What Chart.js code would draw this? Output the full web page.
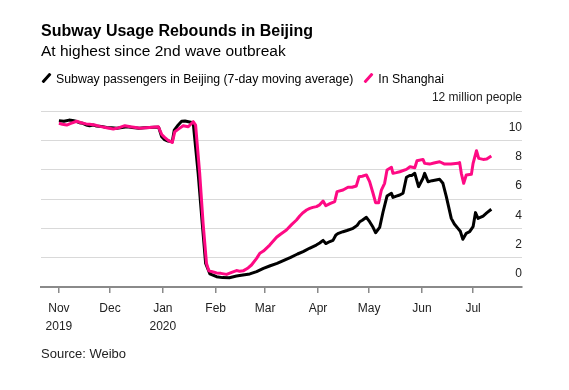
<!DOCTYPE html>
<html>
<head>
<meta charset="utf-8">
<script src="https://cdn.jsdelivr.net/npm/chart.js@4/dist/chart.umd.min.js"></script>
<style>
  body { margin: 0; background: #fff; font-family: "Liberation Sans", Arial, sans-serif; color: #000; }
  #wrap { position: relative; width: 569px; height: 390px; overflow: hidden; }
  #chart { position: absolute; left: 0; top: 0; }
  .txt { position: absolute; left: 41px; line-height: 1; white-space: nowrap; }
  .title { top: 23px; font-size: 16px; font-weight: bold; }
  .sub { top: 43px; font-size: 15.5px; }
  .legend { top: 72px; font-size: 12.3px; }
  .legend span.mark { display: inline-block; width: 3px; height: 12px; margin: 0 8px 0 4px; vertical-align: -1px; transform: rotate(42deg); border-radius: 1px; }
  .source { top: 347px; font-size: 13px; color: #222; }
</style>
</head>
<body>
<div id="wrap">
  <canvas id="chart" width="569" height="390"></canvas>
  <div class="txt title">Subway Usage Rebounds in Beijing</div>
  <div class="txt sub">At highest since 2nd wave outbreak</div>
  <div class="txt legend"><span class="mark" style="background:#000"></span>Subway passengers in Beijing (7-day moving average)<span class="mark" style="background:#fe0a84;margin-left:14px"></span>In Shanghai</div>
  <div class="txt source">Source: Weibo</div>
</div>
<script>
// days counted from Nov 1 2019, values in million people
const monthStarts = [0, 30, 61, 92, 121, 152, 182, 213, 243];
const monthLabels = [['Nov', '2019'], 'Dec', ['Jan', '2020'], 'Feb', 'Mar', 'Apr', 'May', 'Jun', 'Jul'];
const yTicks = [0, 2, 4, 6, 8, 10, 12];

const beijingDays = [0, 3, 6, 8, 10, 12, 14, 16, 18, 20, 22, 25, 28, 31, 34, 37, 40, 43, 47, 50, 53, 56, 58.5,
  60.3, 62, 64, 66.5, 67.7, 70, 72, 74, 76, 78.8, 81.7, 84.1, 86.1, 88.6, 92.5, 96, 100, 104.2, 108, 112,
  116, 120, 124, 128, 132, 136, 140, 143.3, 147, 151, 153, 155, 156.6, 159, 160.8, 162.5, 164, 166.7, 169,
  172.6, 175, 176.5, 178, 180.4, 182.3, 184.3, 185.8, 188.2, 190.2, 192.5, 195.1, 196, 198, 200, 201.9,
  203.9, 205.8, 207, 208.8, 211, 213.6, 214.6, 216.6, 219, 223.4, 225.3, 227.3, 230.2, 232, 234.1, 235.5,
  237, 239, 241, 243, 244.4, 245.9, 248.9, 251, 253.7];
const beijingValues = [11.34, 11.3, 11.38, 11.36, 11.3, 11.2, 11.16, 11.05, 11.0, 11.05, 10.98, 10.95, 10.88,
  10.86, 10.82, 10.88, 10.93, 10.88, 10.82, 10.86, 10.88, 10.9, 10.9,
  10.25, 10.05, 9.95, 9.9, 10.7, 11.05, 11.3, 11.32, 11.27, 11.2, 7.75, 4.34, 1.6, 0.9, 0.7, 0.64, 0.63, 0.75,
  0.82, 0.89, 1.05, 1.27, 1.45, 1.61, 1.82, 2.02, 2.25, 2.41, 2.64, 2.86, 3.0, 3.18, 2.96, 3.1, 3.18, 3.55,
  3.66, 3.77, 3.85, 4.0, 4.2, 4.45, 4.55, 4.75, 4.45, 4.07, 3.7, 4.07, 5.13, 6.2, 6.39, 6.11, 6.2, 6.27, 6.39,
  7.48, 7.6, 7.6, 7.75, 6.84, 7.41, 7.75, 7.18, 7.25, 7.34, 7.07, 6.16, 4.68, 4.3, 4.0, 3.8,
  3.25, 3.66, 3.77, 4.11, 5.07, 4.68, 4.84, 5.05, 5.3];

const shanghaiDays = [0, 2, 4.6, 7, 10.4, 13, 16, 18, 21, 24, 28, 31.9, 35, 38.7, 42, 45, 47.5, 51, 55, 58.3,
  60.3, 62, 64.1, 66.5, 68, 70.5, 72.9, 75.9, 78.8, 80.2, 82.6, 84.6, 86.6, 88, 90, 92.5, 95, 98.4, 101,
  104.2, 106, 108.1, 111, 113, 116, 117.9, 120, 123.7, 127.7, 130, 133.5, 136.5, 139.4, 141.3, 143, 145.3,
  147.2, 149, 151.1, 153, 155, 156.6, 159, 161.8, 163.2, 166.7, 169.6, 172, 174.5, 176.1, 178, 180.4, 182.3,
  184.3, 185.8, 187.6, 189.2, 191.1, 192.5, 195.1, 196, 198, 200, 203.9, 206, 208.8, 210.1, 213.6, 214.6,
  217.5, 220, 223.4, 226.3, 230, 234.1, 235.1, 236.1, 237.5, 239, 242, 243, 245, 246.3, 248.9, 251, 253.7];
const shanghaiValues = [11.16, 11.1, 11.04, 11.15, 11.3, 11.2, 11.12, 11.1, 11.05, 10.95, 10.86, 10.77, 10.85,
  11.0, 10.92, 10.88, 10.82, 10.86, 10.9, 10.93,
  10.4, 10.2, 10.0, 9.85, 10.59, 10.8, 11.0, 10.93, 11.27, 11.04, 7.75, 4.34, 1.6, 1.1, 1.04, 0.96, 0.93, 0.86,
  0.98, 1.12, 1.08, 1.1, 1.3, 1.5, 1.95, 2.3, 2.45, 2.86, 3.39, 3.6, 3.89, 4.25, 4.57, 4.84, 5.05, 5.25,
  5.36, 5.43, 5.48, 5.6, 5.86, 5.54, 5.68, 5.82, 6.5, 6.61, 6.8, 6.8, 6.89, 7.52, 7.55, 7.64, 7.18,
  6.39, 5.75, 5.75, 6.61, 7.07, 7.98, 8.16, 7.75, 7.8, 7.86, 8.02, 8.2, 8.13, 8.61, 8.7, 8.43,
  8.38, 8.45, 8.54, 8.38, 8.38, 8.43, 8.48, 7.75, 7.07, 7.64, 7.68, 8.43, 9.29, 8.77, 8.7, 8.72, 8.93];

const toPoints = (xs, ys) => xs.map((x, i) => ({ x: x, y: ys[i] }));

new Chart(document.getElementById('chart').getContext('2d'), {
  type: 'line',
  data: {
    datasets: [{
      label: 'Subway passengers in Beijing (7-day moving average)',
      data: toPoints(beijingDays, beijingValues),
      borderColor: '#000',
      borderWidth: 3,
      pointRadius: 0,
      tension: 0,
      borderJoinStyle: 'round',
      order: 1
    }, {
      label: 'In Shanghai',
      data: toPoints(shanghaiDays, shanghaiValues),
      borderColor: '#fe0a84',
      borderWidth: 3,
      pointRadius: 0,
      tension: 0,
      borderJoinStyle: 'round',
      order: 0
    }]
  },
  options: {
    responsive: false,
    animation: false,
    devicePixelRatio: 1,
    layout: { padding: { left: 41, right: 47, top: 111, bottom: 47 } },
    plugins: { legend: { display: false }, tooltip: { enabled: false } },
    scales: {
      x: {
        type: 'linear',
        min: -10.5,
        max: 271.7,
        afterBuildTicks: (scale) => { scale.ticks = monthStarts.map(v => ({ value: v })); },
        grid: { drawOnChartArea: false, drawTicks: true, tickLength: 6, color: '#8a8a8a', lineWidth: 1.5 },
        border: { display: true, color: '#8a8a8a', width: 2 },
        ticks: {
          padding: 7,
          maxRotation: 0,
          autoSkip: false,
          color: '#222',
          font: { family: '"Liberation Sans", Arial, sans-serif', size: 12, lineHeight: 1.5 },
          callback: (value, i) => monthLabels[i]
        }
      },
      y: {
        position: 'right',
        min: 0,
        max: 12,
        afterBuildTicks: (scale) => { scale.ticks = yTicks.map(v => ({ value: v })); },
        grid: { color: '#d9d9d9', lineWidth: 1, drawTicks: false },
        border: { display: false },
        ticks: {
          mirror: true,
          padding: 0,
          labelOffset: -13,
          color: '#222',
          font: { family: '"Liberation Sans", Arial, sans-serif', size: 12 },
          callback: (v) => v === 12 ? '12 million people' : v
        }
      }
    }
  }
});
</script>
</body>
</html>
